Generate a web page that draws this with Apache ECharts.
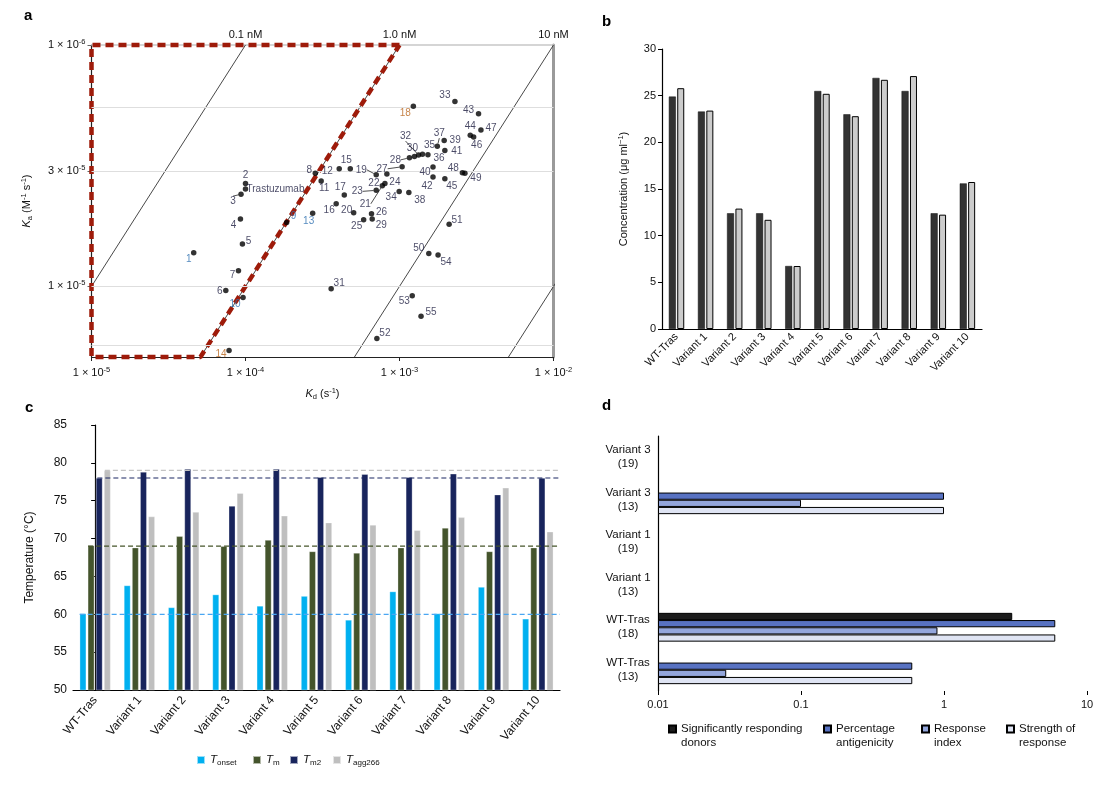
<!DOCTYPE html>
<html><head><meta charset="utf-8">
<script src="https://cdn.jsdelivr.net/npm/echarts@6/dist/echarts.min.js"></script>
<style>html,body{margin:0;padding:0;background:#fff}#c{width:1112px;height:789px}</style>
</head><body><div id="c"></div><script>
const FONT = '"Liberation Sans", Arial, Helvetica, sans-serif';

// ---------------- Panel a data ----------------
const aPointLabels = ['1','2','Trastuzumab','3','4','5','6','7','8','9','10','11','12','13','14','15','16','17','18','19','20','21','22','23','24','25','26','27','28','29','30','31','32','33','34','35','36','37','38','39','40','41','42','43','44','45','46','47','48','49','50','51','52','53','54','55'];
const aKd = [4.61e-5,1.00e-4,1.00e-4,9.35e-5,9.27e-5,9.55e-5,7.45e-5,9.0e-5,2.84e-4,1.85e-4,9.64e-5,3.10e-4,4.06e-4,2.73e-4,7.82e-5,4.79e-4,3.88e-4,4.38e-4,1.23e-3,7.06e-4,5.04e-4,7.73e-4,8.28e-4,7.06e-4,8.04e-4,5.85e-4,6.58e-4,1.04e-3,1.16e-3,6.65e-4,1.25e-3,3.60e-4,1.33e-3,2.29e-3,9.95e-4,1.41e-3,1.53e-3,1.76e-3,1.15e-3,1.95e-3,1.65e-3,1.97e-3,1.65e-3,3.26e-3,2.88e-3,1.97e-3,3.03e-3,3.38e-3,2.56e-3,2.66e-3,1.55e-3,2.10e-3,7.13e-4,1.21e-3,1.78e-3,1.38e-3];
const aKa = [1.38e5,2.67e5,2.53e5,2.41e5,1.90e5,1.50e5,9.62e4,1.16e5,2.94e5,1.84e5,9.0e4,2.73e5,3.07e5,2.01e5,5.43e4,3.07e5,2.20e5,2.39e5,5.58e5,2.90e5,2.02e5,2.61e5,2.92e5,2.50e5,2.67e5,1.89e5,2.00e5,3.13e5,3.41e5,1.90e5,3.45e5,9.78e4,3.50e5,5.84e5,2.47e5,3.53e5,3.51e5,3.81e5,2.45e5,4.02e5,3.12e5,3.66e5,2.84e5,5.19e5,4.23e5,2.79e5,4.16e5,4.44e5,2.96e5,2.94e5,1.37e5,1.81e5,6.08e4,9.15e4,1.35e5,7.53e4];
const aKdRange = [1e-5, 1e-2];
const aKaRange = [5.1e4, 1e6];
const aKaTicks = [1e5, 3e5, 1e6];
const aIsoKdNM = [0.1, 1, 10, 100];
const aIsoLabels = {'-4':'0.1 nM','-3':'1.0 nM','-2':'10 nM'};
const aHighAffinityNM = 1;
const aKdGrid = [3.16e-5, 1e-4, 3.16e-4, 1e-3, 3.16e-3];
const aKaGrid = [5.7e4, 1e5, 3e5, 5.5e5];

// ---------------- Panel b data ----------------
const bCategories = ['WT-Tras','Variant 1','Variant 2','Variant 3','Variant 4','Variant 5','Variant 6','Variant 7','Variant 8','Variant 9','Variant 10'];
const bSeriesDark = [24.9,23.3,12.4,12.4,6.75,25.5,23.0,26.9,25.5,12.4,15.6];
const bSeriesLight = [25.8,23.4,12.9,11.7,6.75,25.2,22.8,26.7,27.1,12.25,15.75];

// ---------------- Panel c data ----------------
const cCategories = ['WT-Tras','Variant 1','Variant 2','Variant 3','Variant 4','Variant 5','Variant 6','Variant 7','Variant 8','Variant 9','Variant 10'];
const cTonset = [60.1,63.8,60.9,62.6,61.1,62.4,59.25,63.0,60.1,63.6,59.4];
const cTm = [69.1,68.8,70.3,69.0,69.8,68.3,68.1,68.8,71.4,68.3,68.8];
const cTm2 = [78.0,78.8,79.2,74.3,79.2,78.1,78.5,78.1,78.55,75.8,78.0];
const cTagg = [79.0,72.9,73.5,76.0,73.0,72.1,71.8,71.1,72.8,76.7,70.9];
const cRefLines = [60, 69, 78, 79];

// ---------------- Panel d data ----------------
const dCategories = ['Variant 3\n(19)','Variant 3\n(13)','Variant 1\n(19)','Variant 1\n(13)','WT-Tras\n(18)','WT-Tras\n(13)'];
const dSignificant = [null,null,null,null,3.0,null];
const dPercentage = [null,1.0,null,null,6.0,0.6];
const dResponseIndex = [null,0.1,null,null,0.9,0.03];
const dStrength = [null,1.0,null,null,6.0,0.6];
const dTickLabels = ['0.01','0.1','1','10'];

// ---------------- styling (not data) ----------------
const aLabelOffsets = [[-5,7],[0,-8],[30,0],[-8,7],[-7,6],[6,-3],[-6,1],[-6,4],[-6,-3],[7,-6],[-8,7],[3,7],[-12,2],[-4,8],[-8,4],[-4,-9],[-7,7],[-4,-8],[-8,7],[-15,-5],[-7,-2],[-17,18],[-13,9],[-19,1],[10,-1],[-7,7],[10,-1],[-20,2],[-14,2],[9,6],[-2,-8],[8,-5],[-13,-19],[-10,-6],[-8,6],[7,-9],[11,3],[2,-13],[11,8],[11,0],[-8,5],[12,1],[-6,9],[-10,-4],[0,-9],[7,7],[3,8],[10,-2],[-9,-4],[11,5],[-10,-5],[8,-4],[8,-5],[-8,6],[8,7],[10,-4]];
const aLeader = ['3','19','21','23','27','28','32','37'];
const aBlue = ['1','9','10','13'];
const aOrange = ['14','18'];
const cRefStart = [-0.35,-0.16,0.05,0.22];
const cRefColors = ['#4aa6f2','#46552a','#1b2663','#c4c4c4'];
const cColors = ['#00b0f0','#44542c','#18245c','#bfbfbf'];
const dColors = ['#1c1c1c','#5872c2','#93a6dc','#dfe4f3'];

const tickRich = {
  b:{fontFamily:FONT,fontSize:11,color:'#111',lineHeight:14},
  s:{fontFamily:FONT,fontSize:7.5,color:'#111',lineHeight:8,verticalAlign:'top'}
};
const nameRich = {
  n:{fontFamily:FONT,fontSize:11,color:'#111',lineHeight:14},
  i:{fontFamily:FONT,fontSize:11,color:'#111',fontStyle:'italic',lineHeight:14},
  sub:{fontFamily:FONT,fontSize:7.5,color:'#111',lineHeight:8,verticalAlign:'bottom'},
  sup:{fontFamily:FONT,fontSize:7.5,color:'#111',lineHeight:8,verticalAlign:'top'}
};
function expOf(v){return Math.round(Math.log10(v));}

const chart = echarts.init(document.getElementById('c'), null, {renderer:'canvas', width:1112, height:789});

const kMin = aKaRange[0], kMax = aKaRange[1];
const hiKD = aHighAffinityNM*1e-9;

const series = [];
// Panel a grid lines
series.push({type:'line', xAxisIndex:0, yAxisIndex:0, data:[], silent:true, z:1,
  markLine:{silent:true, symbol:'none', animation:false, label:{show:false},
    lineStyle:{color:'#dedede', width:1, type:'solid'},
    data:[...aKdGrid.map(v=>({xAxis:v})), ...aKaGrid.map(v=>({yAxis:v}))]}});
// iso-affinity lines
aIsoKdNM.forEach(nm=>{
  const K = nm*1e-9;
  series.push({type:'line', xAxisIndex:0, yAxisIndex:0, symbol:'none', silent:true, z:2,
    lineStyle:{color:'#333', width:0.9}, data:[[K*kMin,kMin],[K*kMax,kMax]]});
});
// high affinity region
series.push({type:'line', xAxisIndex:0, yAxisIndex:0, symbol:'none', silent:true, z:3, clip:false,
  lineStyle:{color:'#9e1b0a', width:4.5, type:[8,5]},
  data:[[hiKD*kMax,kMax],[aKdRange[0],kMax],[aKdRange[0],kMin],[hiKD*kMin,kMin],[hiKD*kMax,kMax]]});
// points
series.push({type:'scatter', xAxisIndex:0, yAxisIndex:0, symbolSize:5.5, z:5,
  itemStyle:{color:'#000'},
  label:{show:true, position:'inside', formatter:'{b}', fontFamily:FONT, fontSize:10, color:'#1d1d40'},
  labelLine:{show:false, lineStyle:{color:'#222', width:0.8}},
  labelLayout:p=>({dx:aLabelOffsets[p.dataIndex][0], dy:aLabelOffsets[p.dataIndex][1]}),
  data:aPointLabels.map((n,i)=>({name:n, value:[aKd[i],aKa[i]],
    label:{color: aBlue.includes(n)?'#2d6fb0':(aOrange.includes(n)?'#b8641c':'#1d1d40')},
    labelLine:{show:aLeader.includes(n)}}))});

// Panel b
series.push({type:'bar', name:'b1', xAxisIndex:2, yAxisIndex:2, data:bSeriesDark, barWidth:7, barGap:'20%',
  itemStyle:{color:'#333333', borderColor:'#111', borderWidth:0.5}});
series.push({type:'bar', name:'b2', xAxisIndex:2, yAxisIndex:2, data:bSeriesLight, barWidth:7, barGap:'20%',
  itemStyle:{color:'#cccccc', borderColor:'#000', borderWidth:1}});

// Panel c
[['Tonset',cTonset],['Tm',cTm],['Tm2',cTm2],['Tagg266',cTagg]].forEach((s,i)=>{
  series.push({type:'bar', name:s[0], xAxisIndex:3, yAxisIndex:3, data:s[1], barWidth:6.5, barGap:'25%',
    itemStyle:{color:cColors[i], borderColor:'rgba(255,255,255,0.6)', borderWidth:0.5}});
});
cRefLines.forEach((v,i)=>{
  series.push({type:'line', xAxisIndex:4, yAxisIndex:3, symbol:'none', silent:true, z:4,
    lineStyle:{color:cRefColors[i], width:1.2, type:[5,3]}, data:[[cRefStart[i],v],[10.5,v]]});
});

// Panel d
[['Significantly responding donors',dSignificant],['Percentage antigenicity',dPercentage],['Response index',dResponseIndex],['Strength of response',dStrength]].forEach((s,i)=>{
  series.push({type:'bar', name:s[0], xAxisIndex:5, yAxisIndex:4, data:s[1], barWidth:7.2, barGap:'0%',
    itemStyle:{color:dColors[i], borderColor:'#000', borderWidth:1}});
});

const cLegendText = {Tonset:'{i|T}{s|onset}', Tm:'{i|T}{s|m}', Tm2:'{i|T}{s|m2}', Tagg266:'{i|T}{s|agg266}'};
const cLegendRich = {
  i:{fontFamily:FONT,fontSize:11.5,fontStyle:'italic',color:'#111',lineHeight:14},
  s:{fontFamily:FONT,fontSize:8,color:'#111',lineHeight:8,verticalAlign:'bottom'}
};
const cLegendLeft = [196,252,289,332];
const dLegendText = {'Significantly responding donors':' \nSignificantly responding\ndonors','Percentage antigenicity':' \nPercentage\nantigenicity','Response index':' \nResponse\nindex','Strength of response':' \nStrength of\nresponse'};
const dLegendLeft = [668,823,921,1006];

const legends = [];
['Tonset','Tm','Tm2','Tagg266'].forEach((n,i)=>legends.push({data:[n], left:cLegendLeft[i], top:754, icon:'rect', itemWidth:8, itemHeight:8, itemGap:0, padding:0,
  formatter:nm=>cLegendText[nm], textStyle:{rich:cLegendRich}, selectedMode:false}));
Object.keys(dLegendText).forEach((n,i)=>legends.push({data:[n], left:dLegendLeft[i], top:708, icon:'rect', itemWidth:7, itemHeight:7, itemGap:0, padding:0,
  formatter:nm=>dLegendText[nm], textStyle:{fontFamily:FONT, fontSize:11.5, color:'#111', lineHeight:14}, selectedMode:false}));

const option = {
  animation:false,
  backgroundColor:'#fff',
  textStyle:{fontFamily:FONT},
  title:[
    {text:'a', left:24, top:8, padding:0, textStyle:{fontFamily:FONT,fontSize:15,fontWeight:'bold',color:'#000'}},
    {text:'b', left:602, top:14, padding:0, textStyle:{fontFamily:FONT,fontSize:15,fontWeight:'bold',color:'#000'}},
    {text:'c', left:25, top:400, padding:0, textStyle:{fontFamily:FONT,fontSize:15,fontWeight:'bold',color:'#000'}},
    {text:'d', left:602, top:398, padding:0, textStyle:{fontFamily:FONT,fontSize:15,fontWeight:'bold',color:'#000'}}
  ],
  legend:legends,
  grid:[
    {left:91.5, top:45, width:462, height:312},
    {left:662, top:49, width:320, height:280},
    {left:73, top:425, width:487, height:265},
    {left:658, top:436, width:429, height:255}
  ],
  xAxis:[
    {type:'log', gridIndex:0, min:aKdRange[0], max:aKdRange[1], position:'bottom',
      axisLine:{lineStyle:{color:'#222', width:1.2}}, axisTick:{show:true, length:4, lineStyle:{color:'#222'}},
      splitLine:{show:false}, minorTick:{show:false},
      axisLabel:{margin:9, formatter:v=>'{b|1 × 10}{s|-'+(-expOf(v))+'}', rich:tickRich},
      name:'{i|K}{sub|d}{n| (s}{sup|-1}{n|)}', nameLocation:'middle', nameGap:30, nameTextStyle:{rich:nameRich}},
    {type:'log', gridIndex:0, min:aKdRange[0], max:aKdRange[1], position:'top',
      axisLine:{lineStyle:{color:'#c8c8c8', width:1.5}}, axisTick:{show:false}, splitLine:{show:false},
      axisLabel:{margin:5, alignMaxLabel:'right', fontFamily:FONT, fontSize:11, color:'#111', formatter:v=>aIsoLabels[String(expOf(v))]||''}},
    {type:'category', gridIndex:1, data:bCategories, axisTick:{show:false},
      axisLine:{lineStyle:{color:'#000', width:1.2}},
      axisLabel:{rotate:45, margin:6, interval:0, fontFamily:FONT, fontSize:11, color:'#111'}},
    {type:'category', gridIndex:2, data:cCategories, axisTick:{show:false},
      axisLine:{lineStyle:{color:'#000', width:1.2}},
      axisLabel:{rotate:50, margin:8, interval:0, fontFamily:FONT, fontSize:12, color:'#111'}},
    {type:'value', gridIndex:2, min:-0.5, max:10.5, show:false},
    {type:'log', gridIndex:3, min:0.01, max:10, startValue:0.01,
      axisLine:{lineStyle:{color:'#000', width:1.2}}, axisTick:{show:true, length:4, lineStyle:{color:'#000'}},
      splitLine:{show:false}, minorTick:{show:false},
      axisLabel:{margin:8, fontFamily:FONT, fontSize:11, color:'#111', formatter:v=>dTickLabels[expOf(v)+2]}}
  ],
  yAxis:[
    {type:'log', gridIndex:0, min:aKaRange[0], max:aKaRange[1],
      axisLine:{show:true, lineStyle:{color:'#222', width:1.2}},
      axisTick:{show:true, length:4, customValues:aKaTicks, lineStyle:{color:'#666'}},
      splitLine:{show:false}, minorTick:{show:false},
      axisLabel:{margin:6, customValues:aKaTicks, rich:tickRich,
        formatter:v=>{const e=Math.floor(Math.log10(v)+1e-9); const m=Math.round(v/Math.pow(10,e)); return '{b|'+m+' × 10}{s|-'+e+'}';}},
      name:'{i|K}{sub|a}{n| (M}{sup|-1}{n| s}{sup|-1}{n|)}', nameLocation:'middle', nameGap:58, nameTextStyle:{rich:nameRich}},
    {type:'log', gridIndex:0, min:aKaRange[0], max:aKaRange[1], position:'right',
      axisLine:{show:true, lineStyle:{color:'#9a9a9a', width:3}}, axisTick:{show:false}, axisLabel:{show:false}, splitLine:{show:false}},
    {type:'value', gridIndex:1, min:0, max:30, interval:5,
      axisLine:{show:true, lineStyle:{color:'#000', width:1.2}}, axisTick:{show:true, length:4, lineStyle:{color:'#000'}},
      splitLine:{show:false}, axisLabel:{margin:6, fontFamily:FONT, fontSize:11, color:'#111'},
      name:'{n|Concentration (μg ml}{sup|−1}{n|)}', nameLocation:'middle', nameGap:31, nameTextStyle:{rich:nameRich}},
    {type:'value', gridIndex:2, min:50, max:85, interval:5,
      axisLine:{show:true, lineStyle:{color:'#000', width:1.2}}, axisTick:{show:true, length:4, lineStyle:{color:'#000'}},
      splitLine:{show:false}, axisLabel:{margin:6, fontFamily:FONT, fontSize:12, color:'#111'},
      name:'Temperature (°C)', nameLocation:'middle', nameGap:37, nameTextStyle:{fontFamily:FONT, fontSize:12, color:'#111'}},
    {type:'category', gridIndex:3, data:dCategories, inverse:true, axisTick:{show:false},
      axisLine:{lineStyle:{color:'#000', width:1.2}},
      axisLabel:{margin:30, align:'center', interval:0, fontFamily:FONT, fontSize:11.5, lineHeight:14, color:'#111'}}
  ],
  series:series
};
chart.setOption(option);
</script></body></html>
